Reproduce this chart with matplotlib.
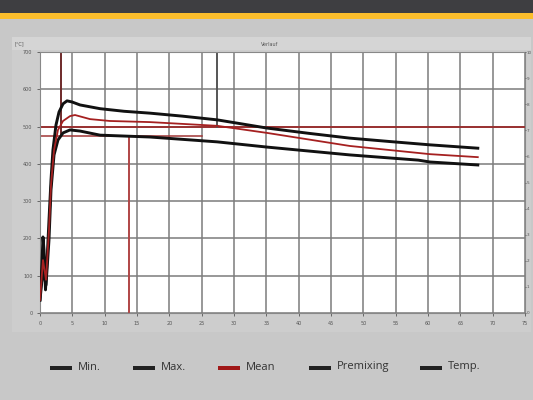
import matplotlib
matplotlib.use("Agg")
import matplotlib.pyplot as plt
from matplotlib.patches import Rectangle

# ---- data (time in minutes, temperature in °C) ----
max_t = [0, 0.31, 0.46, 0.62, 0.85, 1.08, 1.39, 1.7, 2.0, 2.47, 2.94, 3.56, 4.18, 4.95, 6.19, 9.28, 13.0, 17.0, 22.0, 27.4, 35.1, 41.5, 47.9, 54.0, 60.3, 67.7]
max_v = [35, 137, 204, 169, 62, 137, 249, 357, 437, 504, 539, 561, 569, 566, 558, 548, 541, 536, 528, 518, 496, 482, 469, 460, 451, 442]

mean_t = [0, 0.46, 0.93, 1.39, 1.7, 2.17, 2.78, 3.56, 4.64, 5.41, 7.73, 10.8, 17.0, 27.4, 35.1, 47.9, 60.3, 67.7]
mean_v = [35, 142, 89, 223, 343, 437, 491, 515, 528, 531, 520, 515, 512, 502, 483, 448, 426, 418]

min_t = [0, 0.46, 0.93, 1.39, 1.7, 2.17, 2.78, 3.56, 4.64, 6.19, 9.28, 17.0, 27.4, 35.1, 47.9, 58.5, 60.3, 67.7]
min_v = [35, 115, 75, 196, 330, 424, 464, 483, 491, 488, 477, 472, 459, 445, 424, 410, 405, 397]

premix_level = 500
premix_mark = 475
premix_mark_end = 25
marker_t1 = 3.25
marker_t2 = 13.75
marker_t3 = 27.3

x_ticks = list(range(0, 80, 5))
y_ticks = list(range(0, 800, 100))
right_ticks = list(range(0, 11, 1))

legend_labels = ["Min.", "Max.", "Mean", "Premixing", "Temp."]
legend_colors = ["#222222", "#222222", "#a01818", "#222222", "#222222"]

W, H = 533, 400
fig = plt.figure(figsize=(W / 100, H / 100), dpi=100)
fig.patch.set_facecolor("#c8c8c8")

def px_rect(x0, y0, x1, y1, color, z=-10):
    fig.patches.append(Rectangle((x0 / W, 1 - y1 / H), (x1 - x0) / W, (y1 - y0) / H,
                                 transform=fig.transFigure, facecolor=color,
                                 edgecolor="none", zorder=z))

# header bars
px_rect(0, 0, W, 13, "#3e3e41")
px_rect(0, 13, W, 19, "#fbbe2c")
# chart panel
px_rect(12, 37, 531, 332, "#cdcdcd")
px_rect(12, 37, 531, 50, "#d5d5d5")
fig.text(270 / W, 1 - 44 / H, "Verlauf", fontsize=3.5, color="#555555", ha="center", va="center")
fig.text(15 / W, 1 - 44 / H, "[°C]", fontsize=3.5, color="#555555", ha="left", va="center")

ax = fig.add_axes([40 / W, 1 - 313 / H, 485 / W, 261 / H])
ax.set_zorder(2)
ax.set_facecolor("white")
ax.set_xlim(0, 75)
ax.set_ylim(0, 700)
ax.set_xticks(x_ticks)
ax.set_yticks(y_ticks)
ax.grid(True, color="#7c7c7c", linewidth=1.1)
ax.set_axisbelow(True)
ax.tick_params(labelsize=3.5, colors="#555555", length=2, width=0.6)
for s in ax.spines.values():
    s.set_color("#888888")
    s.set_linewidth(0.8)

# reference lines
ax.axhline(premix_level, color="#9b2a2a", linewidth=1.3, zorder=2)
ax.plot([0, premix_mark_end], [premix_mark, premix_mark], color="#a03535", linewidth=1.1, zorder=2)
ax.plot([marker_t1, marker_t1], [premix_mark, 700], color="#6e2a2a", linewidth=1.4, zorder=2)
ax.plot([marker_t2, marker_t2], [0, premix_mark], color="#b04545", linewidth=1.4, zorder=2)
ax.plot([marker_t3, marker_t3], [premix_level, 700], color="#555555", linewidth=1.4, zorder=2)

# curves
ax.plot(max_t, max_v, color="#111111", linewidth=2.1, zorder=3)
ax.plot(min_t, min_v, color="#111111", linewidth=2.1, zorder=3)
ax.plot(mean_t, mean_v, color="#a52020", linewidth=1.3, zorder=4)

# right axis
ax2 = ax.twinx()
ax2.set_zorder(3)
ax2.patch.set_visible(False)
ax2.set_ylim(0, 10)
ax2.set_yticks(right_ticks)
ax2.tick_params(labelsize=3, colors="#555555", length=1, width=0.6, pad=0.5)
for s in ax2.spines.values():
    s.set_visible(False)

# legend
leg_x = [50, 133, 218, 309, 420]
for x, lab, c in zip(leg_x, legend_labels, legend_colors):
    px_rect(x, 366, x + 22, 370, c, z=2)
    fig.text((x + 28) / W, 1 - 367 / H, lab, fontsize=8, family="Open Sans",
             color="#333333", ha="left", va="center")

fig.savefig("out.png", dpi=100, facecolor=fig.get_facecolor())
